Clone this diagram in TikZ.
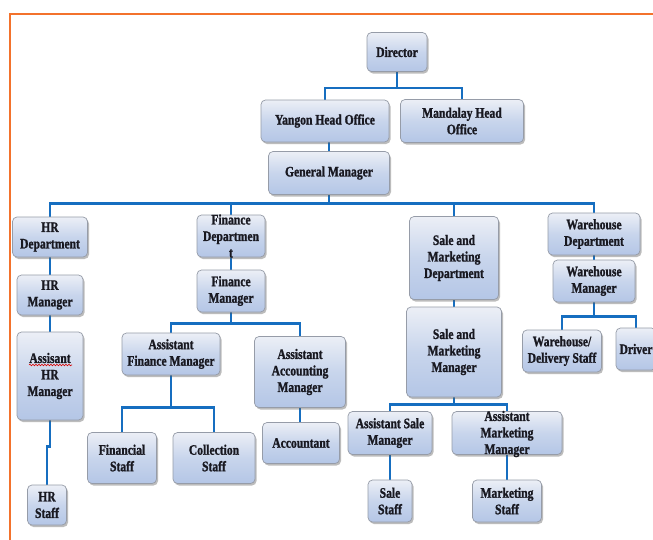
\documentclass[tikz,border=0pt]{standalone}
\usepackage{fontspec}
\setmainfont{Liberation Serif}[FakeStretch=0.8, BoldFeatures={FakeBold=1.2}]
\usetikzlibrary{shadows,decorations.pathmorphing}
\definecolor{linkc}{RGB}{22,110,192}
\definecolor{framec}{RGB}{243,114,44}
\definecolor{boxtop}{RGB}{236,239,246}
\definecolor{boxmid}{RGB}{200,213,236}
\definecolor{boxbot}{RGB}{180,198,230}
\definecolor{boxline}{RGB}{150,156,168}
\definecolor{txtc}{RGB}{24,24,32}
\newcommand\orgfont{\fontsize{14.5}{16.5}\selectfont\bfseries}
\pgfdeclarelayer{bg}
\pgfsetlayers{bg,main}
\tikzset{
  box/.style={draw=boxline, line width=0.7pt, rounded corners=4.5pt,
    top color=boxtop, bottom color=boxbot, middle color=boxmid,
    drop shadow={shadow xshift=1.5pt, shadow yshift=-2pt, opacity=0.4, fill=black!65},
    align=center, inner sep=2pt, font=\orgfont, text=txtc},
  txtonly/.style={align=center, inner sep=0pt, font=\orgfont, text=txtc},
  link/.style={draw=linkc, line width=2.6pt},
  frame/.style={draw=framec, line width=2.5pt}
}
\begin{document}
\begin{tikzpicture}[x=1pt,y=-1pt]
\useasboundingbox (0,0) rectangle (653,539);
\begin{scope}
\clip (0,0) rectangle (653,539);
% frame
\draw[frame] (653,14) -- (10,14) -- (10,545);
% nodes
\node[box, minimum width=60pt, minimum height=39pt] (director) at (397,52) {Director};
\node[box, minimum width=128pt, minimum height=42pt] (yangon) at (325,121) {Yangon Head Office};
\node[box, minimum width=123pt, minimum height=43pt] (mandalay) at (462,121) {Mandalay Head\\Office};
\node[box, minimum width=121pt, minimum height=43pt] (gm) at (329,173) {General Manager};
% HR
\node[box, minimum width=75pt, minimum height=40pt] (hrd) at (50,237) {HR\\Department};
\node[box, minimum width=66pt, minimum height=40pt] (hrm) at (50,295) {HR\\Manager};
\node[box, minimum width=66pt, minimum height=88pt] (ahrm) at (50,376) {Assisant\\HR\\Manager};
\node[box, minimum width=39pt, minimum height=40pt] (hrs) at (47,505) {HR\\Staff};
% Finance
\node[box, minimum width=68pt, minimum height=42pt] (fd) at (231,236) {};
\node[txtonly] (fdtext) at (231,236) {Finance\\Departmen\\t};
\node[box, minimum width=68pt, minimum height=42pt] (fm) at (231,291) {Finance\\Manager};
\node[box, minimum width=98pt, minimum height=42pt] (afm) at (171,354) {Assistant\\Finance Manager};
\node[box, minimum width=91pt, minimum height=71pt] (aam) at (300,372) {Assistant\\Accounting\\Manager};
\node[box, minimum width=69pt, minimum height=51pt] (fs) at (122,458) {Financial\\Staff};
\node[box, minimum width=82pt, minimum height=51pt] (cs) at (214,458) {Collection\\Staff};
\node[box, minimum width=77pt, minimum height=41pt] (acc) at (301,443) {Accountant};
% Sales
\node[box, minimum width=89pt, minimum height=83pt] (smd) at (454,258) {Sale and\\Marketing\\Department};
\node[box, minimum width=95pt, minimum height=90pt] (smm) at (454,352) {Sale and\\Marketing\\Manager};
\node[box, minimum width=84pt, minimum height=43pt] (asm) at (390,433) {Assistant Sale\\Manager};
\node[box, minimum width=110pt, minimum height=43pt] (amm) at (507,433) {};
\node[txtonly] (ammtext) at (507,434) {Assistant\\Marketing\\Manager};
\node[box, minimum width=44pt, minimum height=42pt] (ss) at (390,501) {Sale\\Staff};
\node[box, minimum width=69pt, minimum height=42pt] (ms) at (507,501) {Marketing\\Staff};
% Warehouse
\node[box, minimum width=92pt, minimum height=42pt] (wd) at (594,234) {Warehouse\\Department};
\node[box, minimum width=82pt, minimum height=42pt] (wm) at (594,281) {Warehouse\\Manager};
\node[box, minimum width=79pt, minimum height=42pt] (wds) at (562,351) {Warehouse/\\Delivery Staff};
\node[box, minimum width=40pt, minimum height=42pt] (drv) at (636,349) {Driver};
% spell-check squiggle
\draw[red!85!black, line width=0.6pt, decorate, decoration={snake, amplitude=0.8pt, segment length=3pt}] (29,365) -- (72,365);
\end{scope}
% connectors
\begin{pgfonlayer}{bg}
\fill[white] (0,0) rectangle (653,539);
\draw[link] (director.south) -- ++(0,16) coordinate (jd);
\draw[link] (yangon.north) |- (jd) -| (mandalay.north);
\draw[link] (yangon.south -| gm.north) -- (gm.north);
\draw[link] (gm.south) -- ++(0,8.5) coordinate (jg);
\draw[link] (hrd.north) |- (jg) -| (wd.north);
\draw[link] (fd.north) -- (fd.north |- jg);
\draw[link] (smd.north) -- (smd.north |- jg);
\draw[link] (hrd.south) -- (hrm.north);
\draw[link] (hrm.south) -- (ahrm.north);
\draw[link] (ahrm.south) -- ++(0,26) -| (hrs.north);
\draw[link] (fd.south) -- (fm.north);
\draw[link] (fm.south) -- ++(0,11) coordinate (jf);
\draw[link] (afm.north) |- (jf) -| (aam.north);
\draw[link] (afm.south) -- ++(0,32) coordinate (ja);
\draw[link] (fs.north) |- (ja) -| (cs.north);
\draw[link] (aam.south) -- (aam.south |- acc.north);
\draw[link] (smd.south) -- (smm.north);
\draw[link] (smm.south) -- ++(0,7) coordinate (js);
\draw[link] (asm.north) |- (js) -| (amm.north);
\draw[link] (asm.south) -- (ss.north);
\draw[link] (amm.south) -- (ms.north);
\draw[link] (wd.south) -- (wm.north);
\draw[link] (wm.south) -- ++(0,14) coordinate (jw);
\draw[link] (wds.north) |- (jw) -| (drv.north);
\end{pgfonlayer}
\end{tikzpicture}
\end{document}
